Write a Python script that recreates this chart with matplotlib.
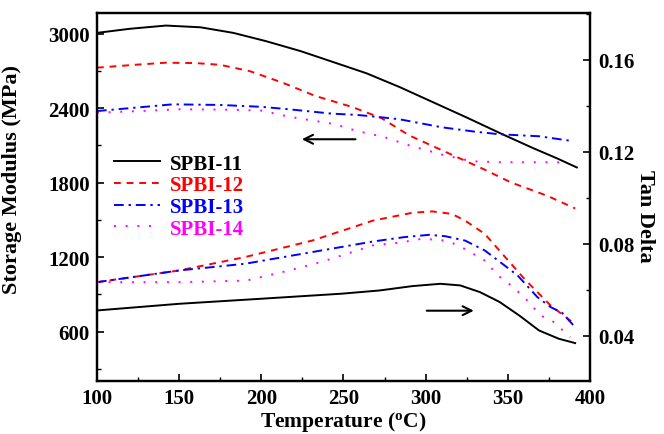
import numpy as np
import matplotlib
matplotlib.use("Agg")
import matplotlib.pyplot as plt
from matplotlib.ticker import MultipleLocator

plt.rcParams["font.family"] = ["Liberation Serif", "DejaVu Serif"]
plt.rcParams["font.weight"] = "bold"
plt.rcParams["mathtext.fontset"] = "custom"
plt.rcParams["mathtext.rm"] = "Liberation Serif:bold"
plt.rcParams["mathtext.default"] = "rm"

# storage modulus (MPa) vs temperature (C)
t_e11 = [100, 120, 142, 163, 183, 203, 224, 242, 264, 284, 304, 324, 345, 365, 380, 392]
e_11 = [3005, 3038, 3064, 3050, 3005, 2938, 2858, 2778, 2680, 2570, 2450, 2330, 2200, 2080, 1995, 1922]

t_e12 = [100, 125, 142, 160, 175, 193, 213, 233, 255, 273, 290, 310, 335, 352, 374, 391]
e_12 = [2725, 2750, 2765, 2762, 2748, 2697, 2604, 2497, 2410, 2320, 2180, 2060, 1910, 1801, 1694, 1592]

t_e13 = [100, 125, 146, 175, 200, 217, 243, 258, 270, 284, 310, 330, 345, 369, 389]
e_13 = [2376, 2405, 2430, 2425, 2410, 2390, 2355, 2345, 2330, 2310, 2245, 2210, 2189, 2173, 2135]

t_e14 = [100, 125, 150, 175, 200, 217, 245, 258, 274, 290, 310, 328, 346, 374, 386]
e_14 = [2363, 2375, 2390, 2388, 2380, 2330, 2270, 2216, 2170, 2100, 2025, 1972, 1964, 1964, 1962]

# tan delta vs temperature (C)
t_d11 = [100, 150, 200, 249, 272, 292, 309, 321, 333, 345, 357, 369, 381, 391]
d_11 = [0.0510, 0.0539, 0.0561, 0.0583, 0.0597, 0.0616, 0.0626, 0.0619, 0.0590, 0.0547, 0.0488, 0.0423, 0.0387, 0.0368]

t_d12 = [100, 150, 190, 231, 268, 292, 304, 316, 324, 336, 344, 352, 360, 368, 376, 384, 391]
d_12 = [0.0633, 0.0684, 0.0742, 0.0814, 0.0901, 0.0935, 0.0941, 0.0930, 0.0901, 0.0843, 0.0778,
        0.0713, 0.0648, 0.0590, 0.0532, 0.0488, 0.0450]

t_d13 = [100, 150, 190, 231, 268, 287, 302, 312, 324, 336, 348, 356, 368, 376, 383, 390]
d_13 = [0.0633, 0.0684, 0.0713, 0.0764, 0.0810, 0.0829, 0.0839, 0.0833, 0.0814, 0.0771, 0.0706,
        0.0662, 0.0568, 0.0525, 0.0500, 0.0445]

t_d14 = [100, 150, 191, 217, 237, 268, 284, 298, 312, 320, 336, 344, 352, 360, 370, 377, 388]
d_14 = [0.0633, 0.0633, 0.0640, 0.0684, 0.0722, 0.0793, 0.0805, 0.0822, 0.0814, 0.0793, 0.0727,
        0.0662, 0.0619, 0.0568, 0.0488, 0.0465, 0.0394]

labels = ["SPBI-11", "SPBI-12", "SPBI-13", "SPBI-14"]
colors = ["black", "red", "blue", "magenta"]
styles = ["-", (0, (3.5, 3)), (0, (5, 2.5, 1.2, 2.5)), (0, (1, 5))]

fig = plt.figure(figsize=(6.64, 4.35), dpi=100)
ax = fig.add_axes([0.146, 0.1223, 0.7425, 0.8455])
ax2 = ax.twinx()

mod_t = [t_e11, t_e12, t_e13, t_e14]
mod_v = [e_11, e_12, e_13, e_14]
tan_t = [t_d11, t_d12, t_d13, t_d14]
tan_v = [d_11, d_12, d_13, d_14]

for i in range(4):
    ax.plot(mod_t[i], mod_v[i], color=colors[i], linestyle=styles[i], lw=1.4, label=labels[i])
    ax2.plot(tan_t[i], tan_v[i], color=colors[i], linestyle=styles[i], lw=1.4)

ax.set_xlim(100, 400)
ax.set_ylim(205, 3165)
ax2.set_ylim(0.0204, 0.1804)

ax.xaxis.set_major_locator(MultipleLocator(50))
ax.xaxis.set_minor_locator(MultipleLocator(25))
ax.yaxis.set_major_locator(MultipleLocator(600))
ax.yaxis.set_minor_locator(MultipleLocator(300))
ax2.yaxis.set_major_locator(MultipleLocator(0.04))
ax2.yaxis.set_minor_locator(MultipleLocator(0.02))
ax2.set_yticks([0.04, 0.08, 0.12, 0.16])

ax.tick_params(axis="both", which="major", direction="in", length=5, width=1.2, labelsize=15, pad=5)
ax.tick_params(axis="both", which="minor", direction="in", length=3, width=1.0)
ax.tick_params(axis="y", which="both", left=True, right=False)
ax2.tick_params(axis="y", which="major", direction="in", length=5, width=1.2, labelsize=15, pad=6)
ax2.tick_params(axis="y", which="minor", direction="in", length=3, width=1.0)
for a in (ax, ax2):
    for s in a.spines.values():
        s.set_linewidth(1.6)
for lab in ax.get_xticklabels() + ax.get_yticklabels() + ax2.get_yticklabels():
    lab.set_fontweight("bold")

ax.set_xlabel(r"Temperature ($^{o}$C)", fontsize=15.5, fontweight="bold", labelpad=1)
ax.set_ylabel("Storage Modulus (MPa)", fontsize=16, fontweight="bold")
ax.yaxis.set_label_coords(-0.151, 0.549)
ax2.set_ylabel("Tan Delta", fontsize=16, fontweight="bold", rotation=270)
ax2.yaxis.set_label_coords(1.132, 0.451)

# arrows pointing to each axis
ax.annotate("", xy=(223, 2149), xytext=(259, 2149),
            arrowprops=dict(arrowstyle="->", color="black", lw=1.5, mutation_scale=16))
ax2.annotate("", xy=(331, 0.0509), xytext=(299, 0.0509),
             arrowprops=dict(arrowstyle="->", color="black", lw=1.5, mutation_scale=16))

leg = ax.legend(loc="upper left", bbox_to_anchor=(0.018, 0.64), frameon=False,
                fontsize=15, handlelength=2.2, handletextpad=0.5, labelspacing=0.08,
                borderaxespad=0)
for txt, c in zip(leg.get_texts(), colors):
    txt.set_color(c)
    txt.set_fontweight("bold")

fig.savefig("out.png", dpi=100)
